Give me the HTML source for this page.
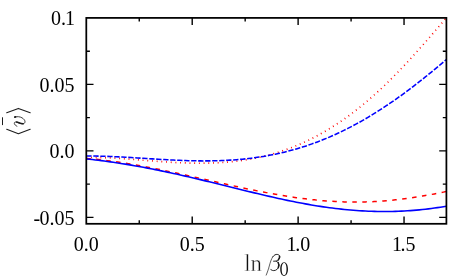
<!DOCTYPE html>
<html><head><meta charset="utf-8"><title>plot</title>
<style>
html,body{margin:0;padding:0;background:#fff;}
body{width:463px;height:278px;overflow:hidden;font-family:"Liberation Serif",serif;}
svg{display:block;}
text{font-family:"Liberation Serif",serif;font-size:20px;fill:#000;}
</style></head><body>
<svg width="463" height="278" viewBox="0 0 463 278">
<rect width="463" height="278" fill="#fff"/>
<defs><clipPath id="c"><rect x="86.3" y="17.9" width="360.09999999999997" height="205.9"/></clipPath></defs>
<g clip-path="url(#c)" fill="none">
<path d="M86.30,157.52 L89.30,157.49 L92.30,157.49 L95.30,157.51 L98.30,157.56 L101.30,157.63 L104.30,157.73 L107.31,157.84 L110.31,157.97 L113.31,158.13 L116.31,158.29 L119.31,158.47 L122.31,158.67 L125.31,158.87 L128.31,159.08 L131.31,159.30 L134.31,159.53 L137.31,159.76 L140.31,160.00 L143.32,160.23 L146.32,160.47 L149.32,160.71 L152.32,160.94 L155.32,161.17 L158.32,161.39 L161.32,161.61 L164.32,161.82 L167.32,162.02 L170.32,162.21 L173.32,162.38 L176.32,162.55 L179.33,162.70 L182.33,162.83 L185.33,162.95 L188.33,163.04 L191.33,163.12 L194.33,163.18 L197.33,163.22 L200.33,163.23 L203.33,163.22 L206.33,163.18 L209.33,163.12 L212.33,163.03 L215.34,162.92 L218.34,162.77 L221.34,162.59 L224.34,162.38 L227.34,162.14 L230.34,161.87 L233.34,161.56 L236.34,161.22 L239.34,160.84 L242.34,160.42 L245.34,159.96 L248.34,159.47 L251.35,158.94 L254.35,158.36 L257.35,157.75 L260.35,157.09 L263.35,156.39 L266.35,155.65 L269.35,154.86 L272.35,154.03 L275.35,153.15 L278.35,152.22 L281.35,151.25 L284.35,150.23 L287.36,149.16 L290.36,148.04 L293.36,146.88 L296.36,145.66 L299.36,144.39 L302.36,143.07 L305.36,141.70 L308.36,140.27 L311.36,138.80 L314.36,137.27 L317.36,135.68 L320.36,134.04 L323.37,132.35 L326.37,130.60 L329.37,128.79 L332.37,126.93 L335.37,125.02 L338.37,123.04 L341.37,121.01 L344.37,118.92 L347.37,116.78 L350.37,114.57 L353.37,112.31 L356.38,109.99 L359.38,107.61 L362.38,105.17 L365.38,102.68 L368.38,100.13 L371.38,97.52 L374.38,94.85 L377.38,92.13 L380.38,89.35 L383.38,86.52 L386.38,83.64 L389.38,80.70 L392.38,77.72 L395.39,74.68 L398.39,71.60 L401.39,68.48 L404.39,65.31 L407.39,62.10 L410.39,58.85 L413.39,55.56 L416.39,52.24 L419.39,48.89 L422.39,45.51 L425.39,42.10 L428.39,38.67 L431.40,35.22 L434.40,31.75 L437.40,28.26 L440.40,24.77 L443.40,21.27 L446.40,17.76" stroke="#ff0000" stroke-width="1.7" stroke-dasharray="0.9 3.8"/>
<path d="M86.30,158.46 L89.30,158.71 L92.30,158.98 L95.30,159.27 L98.30,159.58 L101.30,159.92 L104.30,160.27 L107.31,160.64 L110.31,161.02 L113.31,161.43 L116.31,161.85 L119.31,162.29 L122.31,162.75 L125.31,163.22 L128.31,163.70 L131.31,164.20 L134.31,164.71 L137.31,165.24 L140.31,165.78 L143.32,166.33 L146.32,166.90 L149.32,167.47 L152.32,168.06 L155.32,168.65 L158.32,169.26 L161.32,169.87 L164.32,170.49 L167.32,171.12 L170.32,171.76 L173.32,172.40 L176.32,173.05 L179.33,173.71 L182.33,174.37 L185.33,175.03 L188.33,175.70 L191.33,176.37 L194.33,177.05 L197.33,177.73 L200.33,178.41 L203.33,179.09 L206.33,179.77 L209.33,180.45 L212.33,181.13 L215.34,181.80 L218.34,182.48 L221.34,183.16 L224.34,183.83 L227.34,184.50 L230.34,185.16 L233.34,185.82 L236.34,186.48 L239.34,187.12 L242.34,187.77 L245.34,188.40 L248.34,189.03 L251.35,189.65 L254.35,190.27 L257.35,190.87 L260.35,191.46 L263.35,192.05 L266.35,192.62 L269.35,193.18 L272.35,193.73 L275.35,194.27 L278.35,194.80 L281.35,195.31 L284.35,195.80 L287.36,196.29 L290.36,196.75 L293.36,197.20 L296.36,197.64 L299.36,198.06 L302.36,198.46 L305.36,198.84 L308.36,199.20 L311.36,199.54 L314.36,199.87 L317.36,200.17 L320.36,200.45 L323.37,200.72 L326.37,200.95 L329.37,201.17 L332.37,201.36 L335.37,201.53 L338.37,201.68 L341.37,201.80 L344.37,201.90 L347.37,201.98 L350.37,202.03 L353.37,202.05 L356.38,202.05 L359.38,202.03 L362.38,201.98 L365.38,201.91 L368.38,201.81 L371.38,201.68 L374.38,201.54 L377.38,201.36 L380.38,201.17 L383.38,200.94 L386.38,200.70 L389.38,200.43 L392.38,200.14 L395.39,199.82 L398.39,199.49 L401.39,199.13 L404.39,198.75 L407.39,198.34 L410.39,197.92 L413.39,197.48 L416.39,197.02 L419.39,196.54 L422.39,196.04 L425.39,195.53 L428.39,195.00 L431.40,194.45 L434.40,193.89 L437.40,193.31 L440.40,192.73 L443.40,192.13 L446.40,191.52" stroke="#ff0000" stroke-width="1.5" stroke-dasharray="4.5 5.5"/>
<path d="M86.30,156.08 L89.30,156.06 L92.30,156.07 L95.30,156.09 L98.30,156.13 L101.30,156.20 L104.30,156.28 L107.31,156.37 L110.31,156.48 L113.31,156.61 L116.31,156.74 L119.31,156.89 L122.31,157.04 L125.31,157.21 L128.31,157.38 L131.31,157.56 L134.31,157.74 L137.31,157.92 L140.31,158.11 L143.32,158.30 L146.32,158.50 L149.32,158.69 L152.32,158.88 L155.32,159.06 L158.32,159.24 L161.32,159.42 L164.32,159.60 L167.32,159.76 L170.32,159.92 L173.32,160.07 L176.32,160.21 L179.33,160.34 L182.33,160.46 L185.33,160.57 L188.33,160.66 L191.33,160.74 L194.33,160.80 L197.33,160.85 L200.33,160.88 L203.33,160.90 L206.33,160.89 L209.33,160.87 L212.33,160.83 L215.34,160.77 L218.34,160.68 L221.34,160.58 L224.34,160.45 L227.34,160.30 L230.34,160.12 L233.34,159.92 L236.34,159.69 L239.34,159.44 L242.34,159.16 L245.34,158.86 L248.34,158.52 L251.35,158.16 L254.35,157.77 L257.35,157.35 L260.35,156.89 L263.35,156.41 L266.35,155.90 L269.35,155.35 L272.35,154.77 L275.35,154.16 L278.35,153.52 L281.35,152.84 L284.35,152.13 L287.36,151.38 L290.36,150.60 L293.36,149.78 L296.36,148.93 L299.36,148.04 L302.36,147.11 L305.36,146.15 L308.36,145.15 L311.36,144.11 L314.36,143.04 L317.36,141.93 L320.36,140.78 L323.37,139.59 L326.37,138.36 L329.37,137.09 L332.37,135.78 L335.37,134.44 L338.37,133.06 L341.37,131.63 L344.37,130.17 L347.37,128.67 L350.37,127.13 L353.37,125.56 L356.38,123.94 L359.38,122.29 L362.38,120.59 L365.38,118.86 L368.38,117.10 L371.38,115.29 L374.38,113.45 L377.38,111.57 L380.38,109.65 L383.38,107.70 L386.38,105.72 L389.38,103.70 L392.38,101.64 L395.39,99.55 L398.39,97.43 L401.39,95.27 L404.39,93.08 L407.39,90.87 L410.39,88.61 L413.39,86.33 L416.39,84.03 L419.39,81.69 L422.39,79.32 L425.39,76.93 L428.39,74.51 L431.40,72.06 L434.40,69.60 L437.40,67.10 L440.40,64.59 L443.40,62.06 L446.40,59.50" stroke="#0000ff" stroke-width="1.55" stroke-dasharray="5.3 1.7"/>
<path d="M86.30,158.92 L89.30,159.24 L92.30,159.58 L95.30,159.93 L98.30,160.29 L101.30,160.66 L104.30,161.05 L107.31,161.46 L110.31,161.87 L113.31,162.30 L116.31,162.75 L119.31,163.20 L122.31,163.67 L125.31,164.15 L128.31,164.65 L131.31,165.16 L134.31,165.68 L137.31,166.21 L140.31,166.75 L143.32,167.30 L146.32,167.87 L149.32,168.45 L152.32,169.04 L155.32,169.63 L158.32,170.24 L161.32,170.86 L164.32,171.49 L167.32,172.13 L170.32,172.77 L173.32,173.43 L176.32,174.09 L179.33,174.76 L182.33,175.44 L185.33,176.13 L188.33,176.82 L191.33,177.52 L194.33,178.23 L197.33,178.94 L200.33,179.65 L203.33,180.37 L206.33,181.10 L209.33,181.83 L212.33,182.56 L215.34,183.29 L218.34,184.03 L221.34,184.77 L224.34,185.51 L227.34,186.25 L230.34,187.00 L233.34,187.74 L236.34,188.48 L239.34,189.22 L242.34,189.95 L245.34,190.69 L248.34,191.42 L251.35,192.15 L254.35,192.87 L257.35,193.59 L260.35,194.30 L263.35,195.01 L266.35,195.71 L269.35,196.40 L272.35,197.08 L275.35,197.76 L278.35,198.42 L281.35,199.08 L284.35,199.72 L287.36,200.36 L290.36,200.98 L293.36,201.58 L296.36,202.18 L299.36,202.76 L302.36,203.33 L305.36,203.88 L308.36,204.41 L311.36,204.93 L314.36,205.43 L317.36,205.92 L320.36,206.39 L323.37,206.84 L326.37,207.27 L329.37,207.68 L332.37,208.08 L335.37,208.45 L338.37,208.81 L341.37,209.14 L344.37,209.46 L347.37,209.75 L350.37,210.02 L353.37,210.27 L356.38,210.50 L359.38,210.70 L362.38,210.89 L365.38,211.05 L368.38,211.18 L371.38,211.30 L374.38,211.39 L377.38,211.45 L380.38,211.50 L383.38,211.51 L386.38,211.51 L389.38,211.48 L392.38,211.43 L395.39,211.35 L398.39,211.25 L401.39,211.12 L404.39,210.96 L407.39,210.79 L410.39,210.59 L413.39,210.36 L416.39,210.11 L419.39,209.83 L422.39,209.53 L425.39,209.20 L428.39,208.85 L431.40,208.47 L434.40,208.07 L437.40,207.65 L440.40,207.20 L443.40,206.73 L446.40,206.23" stroke="#0000ff" stroke-width="1.6"/>
</g>
<path d="M192.21,223.8 v-7.2 M192.21,17.9 v7.2 M298.12,223.8 v-7.2 M298.12,17.9 v7.2 M404.04,223.8 v-7.2 M404.04,17.9 v7.2 M139.26,223.8 v-3.6 M139.26,17.9 v3.6 M245.17,223.8 v-3.6 M245.17,17.9 v3.6 M351.08,223.8 v-3.6 M351.08,17.9 v3.6 M86.3,84.42 h7.2 M446.4,84.42 h-7.2 M86.3,150.90 h7.2 M446.4,150.90 h-7.2 M86.3,217.38 h7.2 M446.4,217.38 h-7.2 M86.3,51.18 h3.6 M446.4,51.18 h-3.6 M86.3,117.66 h3.6 M446.4,117.66 h-3.6 M86.3,184.14 h3.6 M446.4,184.14 h-3.6" stroke="#000" stroke-width="1.4" fill="none"/>
<rect x="86.3" y="17.9" width="360.10" height="205.90" fill="none" stroke="#000" stroke-width="1.75"/>
<g style="will-change:transform;transform:translateZ(0)"><text x="74.9" y="25.24" text-anchor="end"><tspan dx="0">0.</tspan><tspan dx="-1.2">1</tspan></text>
<text x="74.5" y="91.72" text-anchor="end">0.05</text>
<text x="74.5" y="158.20" text-anchor="end">0.0</text>
<text x="74.5" y="224.68" text-anchor="end"><tspan dx="0">-</tspan><tspan dx="-0.6">0.05</tspan></text>
<text x="86.30" y="250.9" text-anchor="middle">0.0</text>
<text x="192.21" y="250.9" text-anchor="middle">0.5</text>
<text x="298.12" y="250.9" text-anchor="middle"><tspan dx="0.25">1</tspan><tspan dx="-1.15">.0</tspan></text>
<text x="404.04" y="250.9" text-anchor="middle"><tspan dx="-0.3">1</tspan><tspan dx="-1.7">.5</tspan></text></g>
<g style="will-change:transform;transform:translateZ(0)">
<text x="244.2" y="271.3" style="font-size:25px;fill:#111;stroke:#fff;stroke-width:0.45px" transform="translate(244.2 0) scale(0.905 1) translate(-244.2 0)">l</text>
<text x="0" y="0" style="font-size:25px;fill:#111;stroke:#fff;stroke-width:0.45px" transform="translate(250.49 271.3) scale(0.905 0.9)">n</text>
</g>
<g fill="none" stroke="#1a1a1a" stroke-linecap="round" stroke-linejoin="round">
<path stroke-width="0.75" stroke="#2a2a2a" d="M266.2,275.1 C267.5,272 268.3,269.5 269,267 C270.2,262.5 271.2,259 272.8,256.8"/>
<path stroke-width="0.95" d="M272.8,256.8 C274.2,254.8 275.8,254.3 277.2,254.4 C279.1,254.6 279.95,255.8 279.75,257.3 C279.45,259.3 278,260.6 276.3,261.1 L273.6,261.2 M276.3,261.1 C278,261.8 279,263.5 278.9,265.6 C278.7,268.4 276.4,270.6 273.8,270.6 C272.3,270.6 271.2,270.1 270.5,269.2"/>
<path stroke-width="1.5" d="M279.5,256.2 C279.8,257.6 279.2,259 278.2,260"/>
<path stroke-width="1.5" d="M278.2,262.6 C279,264 279,266 278.3,267.6"/>
</g>
<path fill="#1a1a1a" fill-rule="evenodd" d="M284.1,262.2 C286.6,262.2 288.0,265.3 288.0,269.1 C288.0,272.9 286.6,276.0 284.1,276.0 C281.6,276.0 280.2,272.9 280.2,269.1 C280.2,265.3 281.6,262.2 284.1,262.2 Z M284.1,262.9 C282.5,262.9 281.7,265.6 281.7,269.1 C281.7,272.6 282.5,275.3 284.1,275.3 C285.7,275.3 286.5,272.6 286.5,269.1 C286.5,265.6 285.7,262.9 284.1,262.9 Z"/>
<g fill="none" stroke="#1c1c1c" stroke-linecap="round" stroke-linejoin="round">
<path stroke-width="1.05" d="M6.7,112.8 L18.4,108.4 L30.2,112.8"/>
<path stroke-width="1.05" d="M6.7,129.2 L18.4,133.7 L30.2,129.2"/>
<path stroke-width="1" stroke-linecap="butt" d="M2.5,117.3 L2.5,125.1"/>
<path stroke-width="0.85" d="M15.0,117.0 C17,116.3 20,116.6 22,117.8 C24,119 25.1,120.5 25.0,121.8 C24.9,123.2 24,123.8 22.5,123.8 C20,123.8 18,122.2 16,122 C14.8,121.9 14.2,122.6 14.3,123.4 C14.5,124.6 15.6,125.6 16.9,126.2"/>
<path stroke-width="1.5" d="M23.2,123.7 C20.5,123.8 18.5,122.4 16.6,122.1"/>
<path stroke-width="1.7" d="M14.8,117.1 L15.6,116.9"/>
</g>

</svg>
</body></html>
